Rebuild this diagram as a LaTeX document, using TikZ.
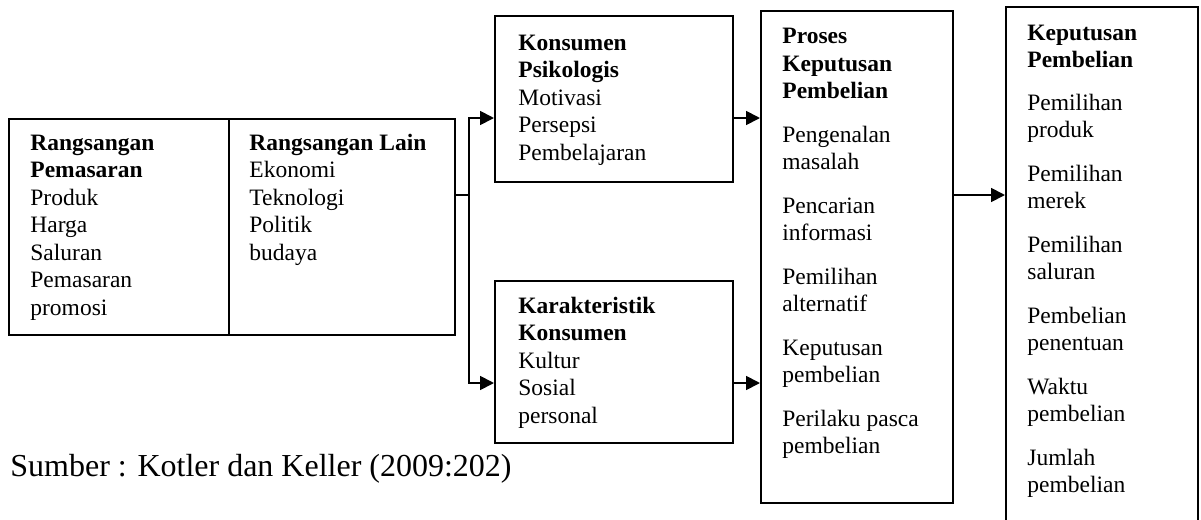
\documentclass[tikz,border=0pt]{standalone}
\usepackage{fontspec}
\setmainfont{Liberation Serif}
\usetikzlibrary{fit,arrows.meta}
\begin{document}
\begin{tikzpicture}[x=0.5pt,y=-0.5pt,
  box/.style={draw,line width=1pt,inner sep=0pt},
  txt/.style={anchor=north west,inner sep=0pt,align=left,font=\fontsize{11.75}{13.75}\selectfont},
  con/.style={line width=0.9pt},
  arr/.style={line width=0.9pt,-{Triangle[length=7pt,width=7pt]}}]
\useasboundingbox (0,0) rectangle (1201,520);
% boxes
\node[box,fit={(9,119)(229,335)}] (lbl) {};
\node[box,fit={(229,119)(455,335)}] (lbr) {};
\node[box,fit={(495,16)(733,182)}] (kp) {};
\node[box,fit={(495,281)(733,443)}] (kk) {};
\node[box,fit={(761,11)(953,503)}] (pk) {};
\node[box,fit={(1006,7)(1198,540)}] (kb) {};
% texts
\node[txt] (tlbl) at (30,130.75) {\strut\textbf{Rangsangan}\\\textbf{Pemasaran}\\Produk\\Harga\\Saluran\\Pemasaran\\promosi};
\node[txt] (tlbr) at (249,130.75) {\strut\textbf{Rangsangan Lain}\\Ekonomi\\Teknologi\\Politik\\budaya};
\node[txt] (tkp) at (518,30.75) {\strut\textbf{Konsumen}\\\textbf{Psikologis}\\Motivasi\\Persepsi\\Pembelajaran};
\node[txt] (tkk) at (518,293.75) {\strut\textbf{Karakteristik}\\\textbf{Konsumen}\\Kultur\\Sosial\\personal};
\node[txt] (tpk) at (782,24.25) {\strut\textbf{Proses}\\\textbf{Keputusan}\\\textbf{Pembelian}\\[8pt]Pengenalan\\masalah\\[8pt]Pencarian\\informasi\\[8pt]Pemilihan\\alternatif\\[8pt]Keputusan\\pembelian\\[8pt]Perilaku pasca\\pembelian};
\node[txt] (tkb) at (1027,20.75) {\strut\textbf{Keputusan}\\\textbf{Pembelian}\\[7.5pt]Pemilihan\\produk\\[8pt]Pemilihan\\merek\\[8pt]Pemilihan\\saluran\\[8pt]Pembelian\\penentuan\\[8pt]Waktu\\pembelian\\[8pt]Jumlah\\pembelian};
\node[anchor=base west,inner sep=0pt,font=\fontsize{16}{19}\selectfont] (src) at (10,476) {Sumber : Kotler dan Keller (2009:202)};
% connectors
\coordinate (j) at (469,195);
\coordinate (ja) at (469,118);
\coordinate (jb) at (469,383);
\draw[con] (lbr.east |- j) -- (j);
\draw[arr] (j) |- (kp.west |- ja);
\draw[arr] (j) |- (kk.west |- jb);
\draw[arr] (kp.east |- ja) -- (pk.west |- ja);
\draw[arr] (kk.east |- jb) -- (pk.west |- jb);
\draw[arr] (pk.east |- j) -- (kb.west |- j);
\end{tikzpicture}
\end{document}
